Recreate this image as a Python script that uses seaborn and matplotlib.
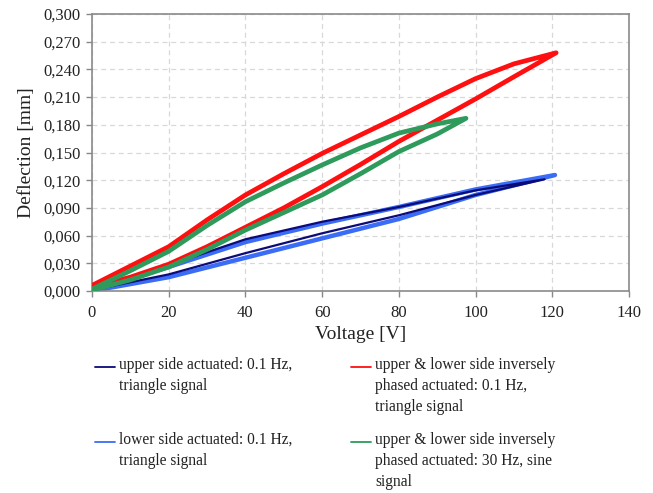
import matplotlib
matplotlib.use("Agg")
import matplotlib.pyplot as plt
from matplotlib.lines import Line2D
import seaborn as sns
import pandas as pd

# ---- data ----
# upper side actuated: 0.1 Hz, triangle (navy) - loop: ascending then descending
navy_v = [0, 20, 40, 60, 80, 100, 118, 100, 80, 60, 40, 20, 0]
navy_d = [0.001, 0.018, 0.041, 0.0625, 0.082, 0.104, 0.121, 0.109, 0.091, 0.075, 0.056, 0.028, 0.002]

# lower side actuated: 0.1 Hz, triangle (blue)
blue_v = [0, 20, 40, 60, 80, 100, 120.7, 100, 80, 60, 40, 20, 0]
blue_d = [0.000, 0.015, 0.036, 0.057, 0.078, 0.104, 0.1256, 0.110, 0.091, 0.073, 0.053, 0.026, 0.001]

# upper & lower inversely phased: 0.1 Hz, triangle (red)
red_v = [0, 10, 20, 30, 40, 50, 60, 70, 80, 90, 100, 110, 121,
         110, 100, 90, 80, 70, 60, 50, 40, 30, 20, 10, 0]
red_d = [0.004, 0.015, 0.029, 0.048, 0.069, 0.090, 0.113, 0.137, 0.162, 0.185, 0.208, 0.232, 0.258,
         0.246, 0.230, 0.210, 0.189, 0.169, 0.149, 0.127, 0.104, 0.077, 0.048, 0.027, 0.006]

# upper & lower inversely phased: 30 Hz, sine (green)
green_v = [0, 10, 20, 30, 40, 50, 60, 70, 80, 90, 97.5,
           90, 80, 70, 60, 50, 40, 30, 20, 10, 0]
green_d = [0.001, 0.012, 0.026, 0.045, 0.066, 0.085, 0.104, 0.127, 0.151, 0.170, 0.187,
           0.181, 0.171, 0.155, 0.1365, 0.117, 0.0967, 0.071, 0.043, 0.022, 0.002]

labels = [
    "upper side actuated: 0.1 Hz,\ntriangle signal",
    "lower side actuated: 0.1 Hz,\ntriangle signal",
    "upper & lower side inversely\nphased actuated: 0.1 Hz,\ntriangle signal",
    "upper & lower side inversely\nphased actuated: 30 Hz, sine\nsignal",
]
colors = ["#0b0b7a", "#3a6cf5", "#ff1010", "#2e9a5c"]

x_ticks = [0, 20, 40, 60, 80, 100, 120, 140]
y_ticks = [0.0, 0.03, 0.06, 0.09, 0.12, 0.15, 0.18, 0.21, 0.24, 0.27, 0.30]
y_tick_labels = ["0,000", "0,030", "0,060", "0,090", "0,120", "0,150",
                 "0,180", "0,210", "0,240", "0,270", "0,300"]

# ---- figure ----
sns.set_theme(style="white")
plt.rcParams["font.family"] = ["Liberation Serif", "DejaVu Serif"]

W, H = 653, 493
fig = plt.figure(figsize=(W / 100, H / 100), dpi=100)
ax = fig.add_axes([92 / W, 1 - 291 / H, (629 - 92) / W, (291 - 14) / H])

series = [
    (blue_v, blue_d, colors[1], 3.2, 2),
    (navy_v, navy_d, colors[0], 1.6, 3),
    (red_v, red_d, colors[2], 3.4, 4),
    (green_v, green_d, colors[3], 3.4, 5),
]
for v, d, c, lw, z in series:
    df = pd.DataFrame({"V": v, "D": d})
    sns.lineplot(data=df, x="V", y="D", sort=False, estimator=None,
                 color=c, linewidth=lw, ax=ax, zorder=z)

ax.set_xlim(0, 140)
ax.set_ylim(0, 0.30)
ax.set_xticks(x_ticks)
ax.set_xticklabels([str(t) for t in x_ticks])
ax.set_yticks(y_ticks)
ax.set_yticklabels(y_tick_labels)
ax.tick_params(axis="both", labelsize=12, length=4, width=1, direction="out",
               left=True, bottom=True, colors="#888888", labelcolor="#222222")
ax.tick_params(axis="x", pad=6)
ax.tick_params(axis="y", pad=4)
ax.grid(True, linestyle=(0, (4, 3)), color="#d8d8d8", linewidth=0.9)
ax.set_axisbelow(True)
for s in ax.spines.values():
    s.set_visible(True)
    s.set_color("#8a8a8a")
    s.set_linewidth(1.2)

ax.set_xlabel("Voltage [V]", fontsize=14, color="#222222", labelpad=4)
ax.set_ylabel("Deflection [mm]", fontsize=14, color="#222222", labelpad=6)

# ---- legend (two aligned columns below the axes) ----
entries = [
    (labels[0], colors[0], 95, 367),
    (labels[2], colors[2], 351, 367),
    (labels[1], colors[1], 95, 442),
    (labels[3], colors[3], 351, 442),
]
for text, c, px, py in entries:
    fig.add_artist(Line2D([px / W, (px + 20) / W], [1 - py / H, 1 - py / H],
                          transform=fig.transFigure, color=c, linewidth=1.3))
    fig.text((px + 24) / W, 1 - (py - 10) / H, text, fontsize=11.2,
             color="#222222", va="top", ha="left", linespacing=1.4)

fig.savefig("out.png", dpi=100)
